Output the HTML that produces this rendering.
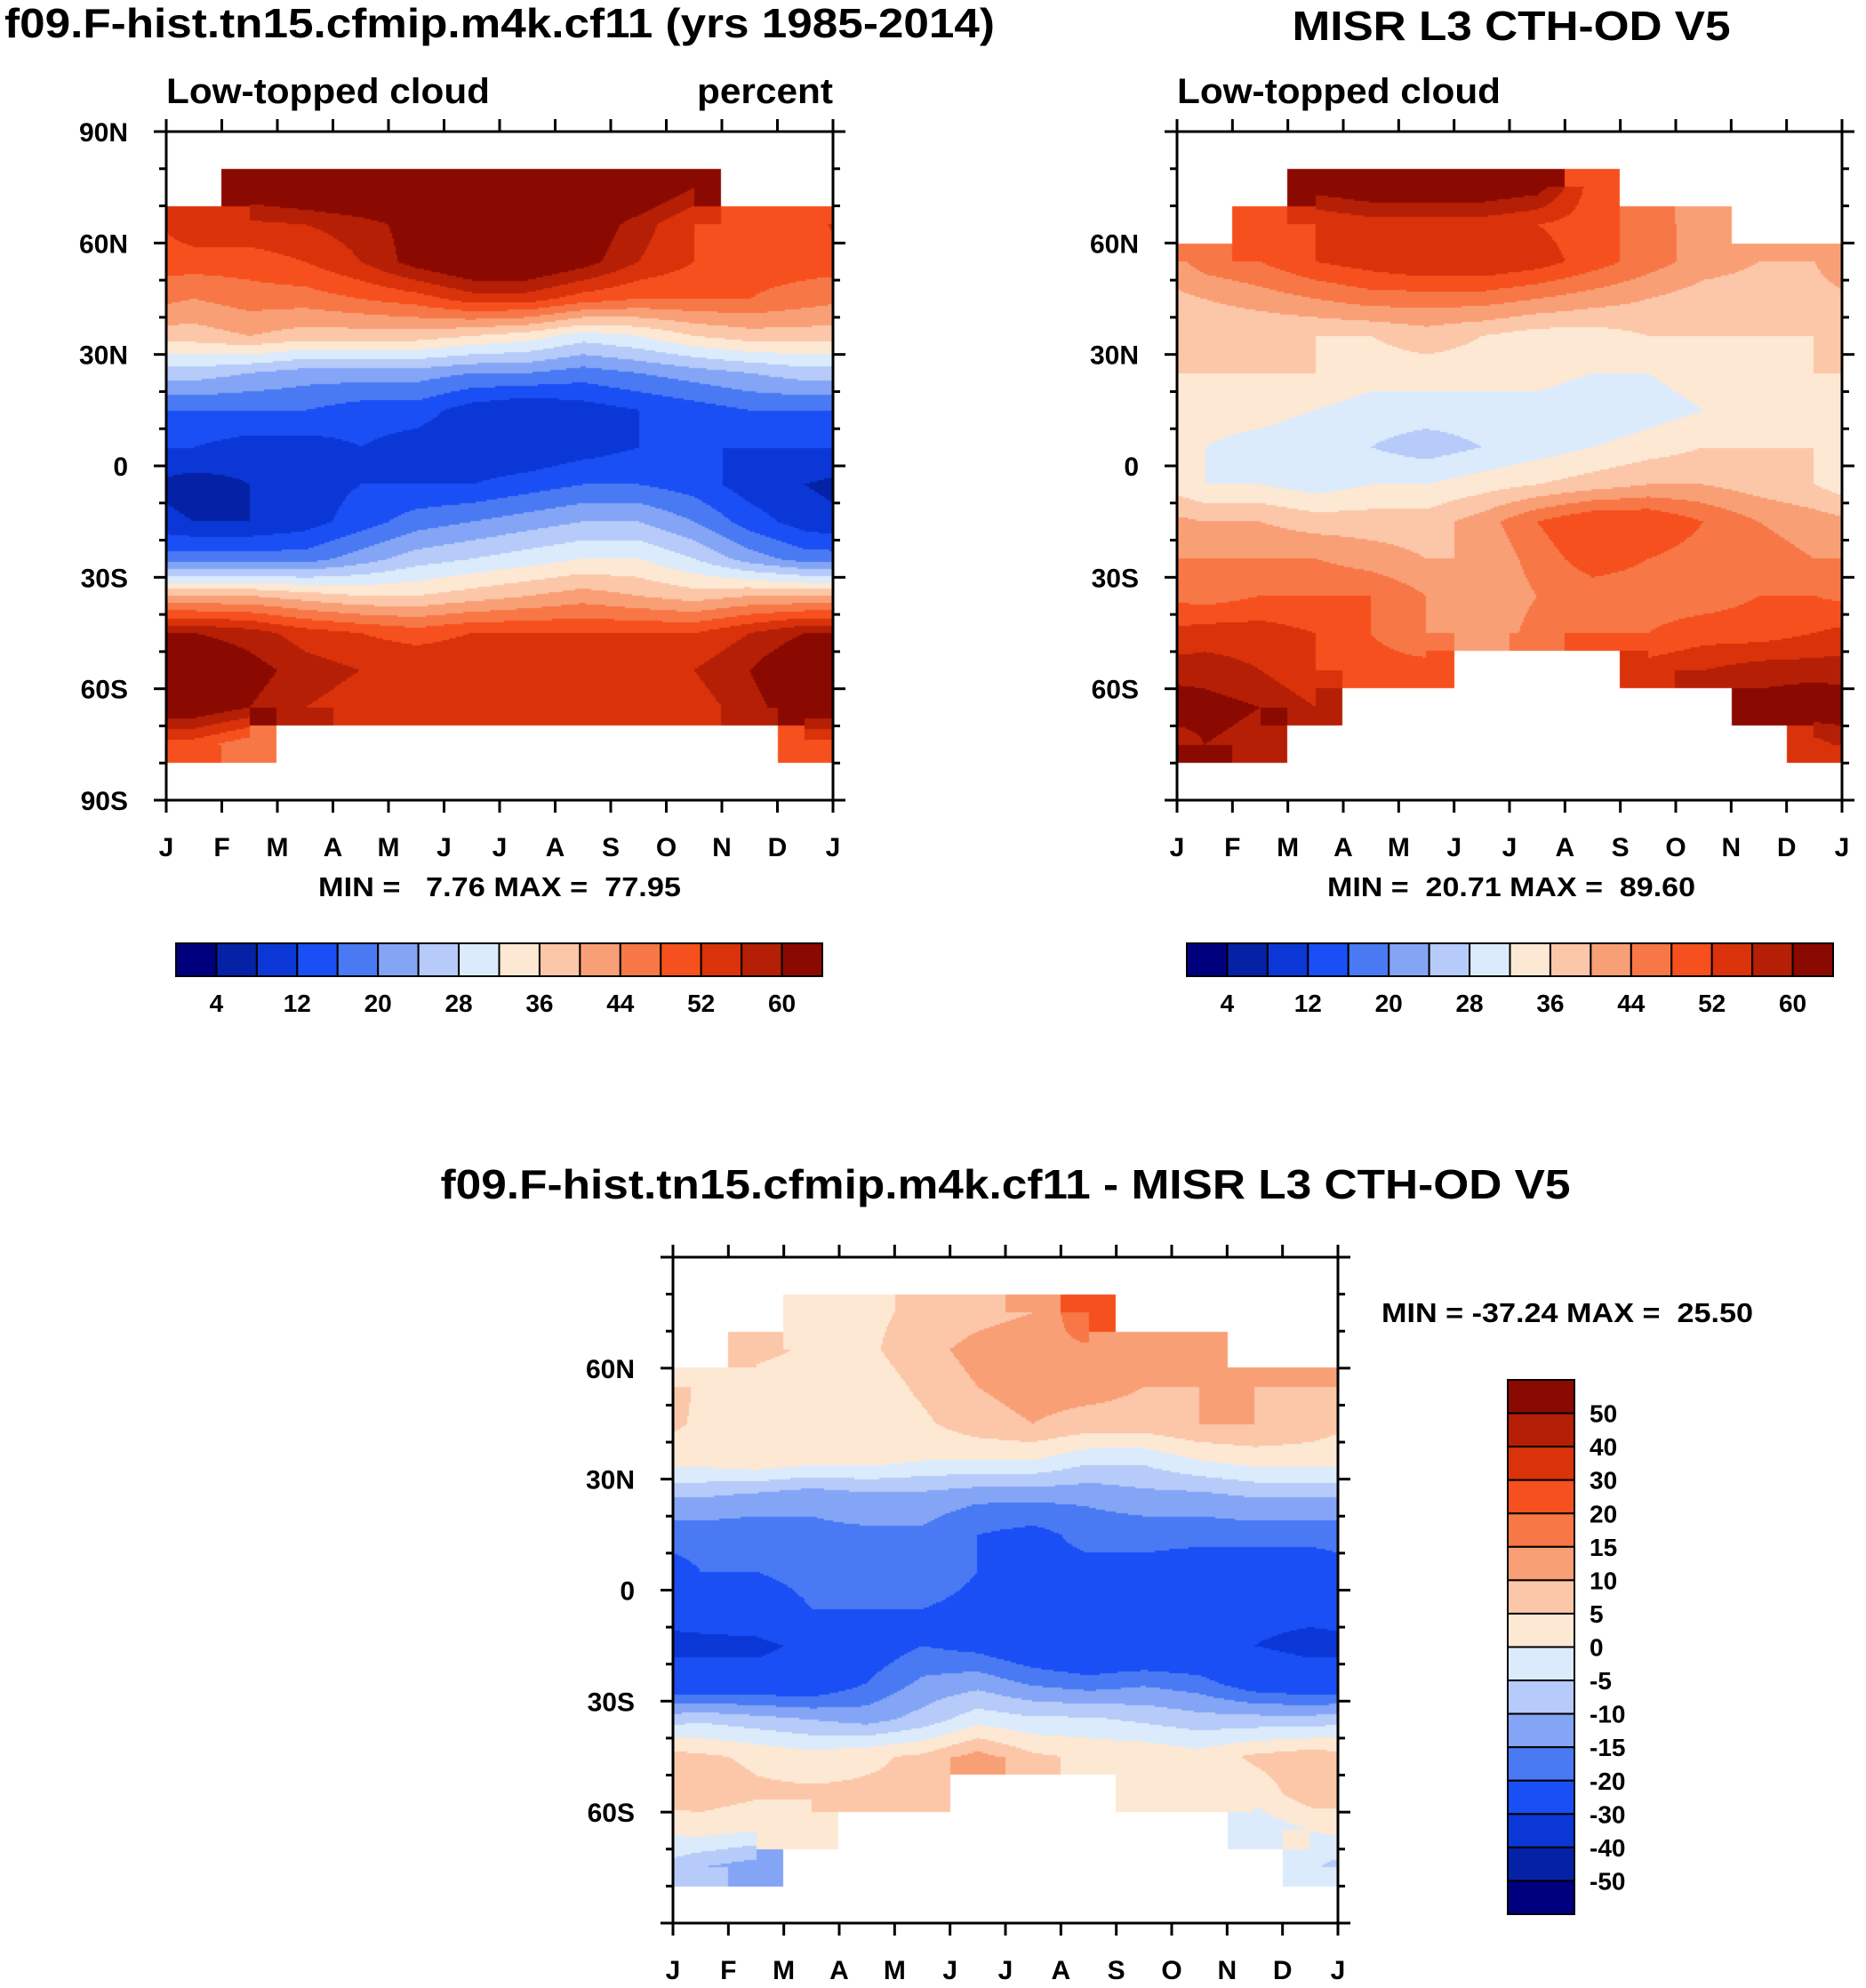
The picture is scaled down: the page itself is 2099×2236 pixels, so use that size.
<!DOCTYPE html>
<html><head><meta charset="utf-8">
<style>
html,body{margin:0;padding:0;background:#fff;}
#wrap{position:relative;width:2099px;height:2236px;overflow:hidden;font-family:"Liberation Sans",sans-serif;}
canvas{position:absolute;}
svg{position:absolute;left:0;top:0;}
text{font-family:"Liberation Sans",sans-serif;font-weight:bold;fill:#000;white-space:pre;}
</style></head>
<body>
<div id="wrap">
<canvas id="c1"></canvas>
<canvas id="c2"></canvas>
<canvas id="c3"></canvas>
<svg id="sv" width="2099" height="2236"></svg>
</div>
<script>
const months=['J','F','M','A','M','J','J','A','S','O','N','D','J'];
const lats=[85,75,65,55,45,35,25,15,5,-5,-15,-25,-35,-45,-55,-65,-75,-85];
const N=NaN;
const modelVals=[
[N,N,N,N,N,N,N,N,N,N,N,N],
[N,64,66,68,70,72,72,70,66,60,N,N],
[55,55,56,58,62,66,66,64,58,52,50,50],
[50,50,52,56,62,66,66,62,56,52,50,50],
[44,46,46,48,50,54,54,50,48,48,48,46],
[38,40,38,38,38,36,34,30,32,36,38,38],
[26,24,22,22,22,20,20,18,20,22,24,26],
[16,16,16,14,14,10,8,10,12,14,16,16],
[12,10,10,12,10,8,8,10,12,12,12,12],
[6,8,10,12,12,12,14,16,16,14,10,8],
[8,8,10,14,18,20,22,24,24,20,14,10],
[18,18,18,22,26,28,30,32,32,28,22,18],
[40,40,38,36,36,38,40,42,40,38,40,40],
[60,58,54,52,50,52,52,52,52,52,56,60],
[66,62,58,56,56,56,56,56,56,56,60,66],
[64,60,56,54,54,54,54,54,54,54,58,64],
[50,45,N,N,N,N,N,N,N,N,N,50],
[N,N,N,N,N,N,N,N,N,N,N,N]];
const misrVals=[
[N,N,N,N,N,N,N,N,N,N,N,N],
[N,N,62,64,64,64,62,50,N,N,N,N],
[N,48,52,54,54,54,52,50,46,42,N,N],
[46,48,52,54,56,56,54,50,46,42,40,40],
[40,42,44,46,46,46,44,42,40,38,38,38],
[36,36,36,36,38,36,34,34,36,36,36,36],
[36,36,36,34,34,34,34,32,32,34,34,36],
[34,34,32,30,30,30,30,28,30,32,34,34],
[32,30,28,28,26,28,30,32,34,36,36,36],
[32,32,30,32,32,34,36,38,40,40,38,36],
[40,40,38,38,38,42,48,52,52,48,44,42],
[44,44,44,42,40,40,46,50,48,46,46,44],
[46,48,48,48,44,40,44,46,46,46,48,48],
[54,54,52,48,44,40,46,48,48,50,50,52],
[58,56,52,50,50,N,N,N,54,56,58,58],
[62,60,56,N,N,N,N,N,N,N,62,64],
[60,58,N,N,N,N,N,N,N,N,N,54],
[N,N,N,N,N,N,N,N,N,N,N,N]];
const absLevels=[4,8,12,16,20,24,28,32,36,40,44,48,52,56,60];
const absTickLabels=['4','12','20','28','36','44','52','60'];
const diffLevels=[-50,-40,-30,-20,-15,-10,-5,0,5,10,15,20,30,40,50];
const diffTickLabels=['50','40','30','20','15','10','5','0','-5','-10','-15','-20','-30','-40','-50'];
const colors=['#00007e','#0522a6','#0a37d6','#1a4ff5','#4a7af3','#84a5f6','#b6cbf9','#dcebfb','#fde8d4','#fcc6a8','#f99f76','#f77746','#f5501d','#da320a','#b41f05','#8a0900'];

const diffVals=modelVals.map((r,i)=>r.map((v,j)=>v-misrVals[i][j]));

function colorFor(v,lev){if(isNaN(v))return null;let k=0;while(k<lev.length&&v>=lev[k])k++;return colors[k];}
function sample(data,lat,t){
  let fx=t-0.5; let j0=Math.floor(fx); let ax=fx-j0;
  let fy=(lats[0]-lat)/10; let i0=Math.floor(fy); let ay=fy-i0;
  i0=Math.max(0,Math.min(lats.length-2,i0)); if(fy<0)ay=0; if(fy>lats.length-1)ay=1;
  const g=(i,j)=>data[i][((j%12)+12)%12];
  const a=g(i0,j0),b=g(i0,j0+1),c=g(i0+1,j0),d=g(i0+1,j0+1);
  const near=(ay<0.5?(ax<0.5?a:b):(ax<0.5?c:d));
  if(isNaN(near))return NaN;
  if(isNaN(a)||isNaN(b)||isNaN(c)||isNaN(d))return near;
  return (a*(1-ax)+b*ax)*(1-ay)+(c*(1-ax)+d*ax)*ay;
}
function drawField(id,data,lev,x0,y0,x1,y1){
  const cv=document.getElementById(id);cv.width=x1-x0;cv.height=y1-y0;cv.style.left=x0+'px';cv.style.top=y0+'px';
  const ctx=cv.getContext('2d');const st=2;
  for(let py=0;py<cv.height;py+=st){const lat=90-180*(py+st/2)/cv.height;
    for(let px=0;px<cv.width;px+=st){const t=12*(px+st/2)/cv.width;
      const col=colorFor(sample(data,lat,t),lev);if(col){ctx.fillStyle=col;ctx.fillRect(px,py,st,st);}}}
}
const sv=document.getElementById('sv');const NS='http://www.w3.org/2000/svg';
function el(tag,attrs,txt){const e=document.createElementNS(NS,tag);for(const k in attrs)e.setAttribute(k,attrs[k]);if(txt!==undefined)e.textContent=txt;sv.appendChild(e);return e;}
function txt(x,y,s,size,anchor,name,len){const a={x:x,y:y,'font-size':size,'text-anchor':anchor||'start'};
if(len){a.textLength=len;a.lengthAdjust='spacingAndGlyphs';}
const e=el('text',a,s);

return e;}
function axes(x0,y0,x1,y1,ylabels,pre){
  const f=el('rect',{x:x0,y:y0,width:x1-x0,height:y1-y0,fill:'none',stroke:'#000','stroke-width':3});
  
  
  const W=x1-x0,H=y1-y0;
  for(let m=0;m<=12;m++){const x=x0+W*m/12;
    el('line',{x1:x,y1:y0,x2:x,y2:y0-14,stroke:'#000','stroke-width':3});
    el('line',{x1:x,y1:y1,x2:x,y2:y1+14,stroke:'#000','stroke-width':3});
    txt(x,y1+63,months[m],30,'middle',pre+'-x-tick-label');}
  for(let l=-90;l<=90;l+=10){const y=y0+H*(90-l)/180;const L=(l%30===0)?14:8;
    el('line',{x1:x0,y1:y,x2:x0-L,y2:y,stroke:'#000','stroke-width':3});
    el('line',{x1:x1,y1:y,x2:x1+L,y2:y,stroke:'#000','stroke-width':3});}
  const yl={90:'90N',60:'60N',30:'30N',0:'0','-30':'30S','-60':'60S','-90':'90S'};
  ylabels.forEach(l=>{const y=y0+H*(90-l)/180;txt(x0-43,y+11,yl[l],30,'end',pre+'-y-tick-label');});
}
function hbar(x0,y0,x1,y1,pre){
  const w=(x1-x0)/16;
  colors.forEach((c,i)=>{const r=el('rect',{x:x0+i*w,y:y0,width:w,height:y1-y0,fill:c,stroke:'#000','stroke-width':2});
    
    });
  absLevels.forEach((v,i)=>{if(absTickLabels.includes(String(v)))txt(x0+(i+1)*w,y1+40,String(v),28,'middle',pre+'-colorbar-label');});
}
drawField('c1',modelVals,absLevels,187,148,937,900);
drawField('c2',misrVals,absLevels,1324,148,2072,900);
drawField('c3',diffVals,diffLevels,757,1414,1505,2163);
axes(187,148,937,900,[90,60,30,0,-30,-60,-90],'model');
axes(1324,148,2072,900,[60,30,0,-30,-60],'misr');
axes(757,1414,1505,2163,[60,30,0,-30,-60],'diff');
txt(5,42,'f09.F-hist.tn15.cfmip.m4k.cf11 (yrs 1985-2014)',46,'start','model-title',1114);
txt(1700,45,'MISR L3 CTH-OD V5',46,'middle','misr-title',493);
txt(187,116,'Low-topped cloud',40,'start','model-subtitle',364);
txt(937,116,'percent',40,'end','model-units',153);
txt(1324,116,'Low-topped cloud',40,'start','misr-subtitle',364);
txt(562,1008,'MIN =   7.76 MAX =  77.95',31,'middle','model-min-max',408);
txt(1700,1008,'MIN =  20.71 MAX =  89.60',31,'middle','misr-min-max',414);
txt(1131,1348,'f09.F-hist.tn15.cfmip.m4k.cf11 - MISR L3 CTH-OD V5',46,'middle','diff-title',1271);
txt(1554,1487,'MIN = -37.24 MAX =  25.50',31,'start','diff-min-max',418);
hbar(198,1061,925,1098,'model');
hbar(1335,1061,2062,1098,'misr');
(function(){const x0=1696,x1=1771,y0=1552,y1=2153,h=(y1-y0)/16;
  for(let i=0;i<16;i++){const r=el('rect',{x:x0,y:y0+i*h,width:x1-x0,height:h,fill:colors[15-i],stroke:'#000','stroke-width':2});
    
    }
  diffTickLabels.forEach((s,i)=>txt(1788,y0+(i+1)*h+10,s,28,'start','diff-colorbar-label'));
})();
</script>
</body></html>
